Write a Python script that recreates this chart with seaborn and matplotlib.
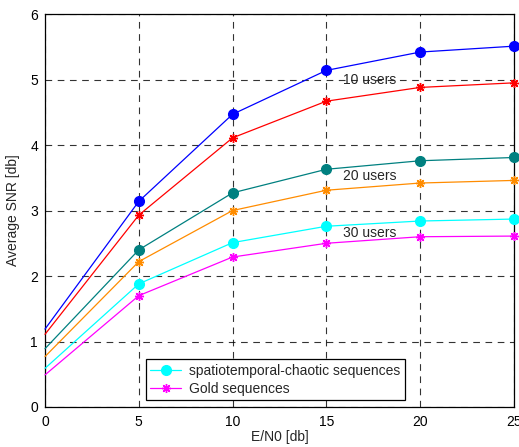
import matplotlib
matplotlib.use("Agg")
import matplotlib.pyplot as plt
import seaborn as sns
import pandas as pd
from matplotlib.lines import Line2D

ebn0 = [0, 5, 10, 15, 20, 25]
chaotic_10 = [1.19, 3.14, 4.47, 5.14, 5.42, 5.51]
gold_10 = [1.11, 2.93, 4.11, 4.67, 4.88, 4.95]
chaotic_20 = [0.89, 2.40, 3.27, 3.63, 3.76, 3.81]
gold_20 = [0.77, 2.22, 3.00, 3.31, 3.42, 3.46]
chaotic_30 = [0.59, 1.88, 2.51, 2.76, 2.84, 2.87]
gold_30 = [0.49, 1.70, 2.29, 2.50, 2.60, 2.61]
xticks = [0, 5, 10, 15, 20, 25]
yticks = [0, 1, 2, 3, 4, 5, 6]
annotations = ["10 users", "20 users", "30 users"]
legend_labels = ["spatiotemporal-chaotic sequences", "Gold sequences"]

sns.set_style("white")
plt.rcParams['font.family'] = ['Liberation Sans', 'DejaVu Sans']
FS = 10

fig = plt.figure(figsize=(5.19, 4.47), dpi=100)
ax = fig.add_axes([0.0867, 0.0895, 0.9035, 0.879])

asterisk = (8, 2, 0)
series = [
    (chaotic_10, '#0000FF', 'o'),
    (gold_10, '#FF0000', asterisk),
    (chaotic_20, '#008080', 'o'),
    (gold_20, '#FF8C00', asterisk),
    (chaotic_30, '#00FFFF', 'o'),
    (gold_30, '#FF00FF', asterisk),
]
for vals, col, mk in series:
    df = pd.DataFrame({'x': ebn0, 'y': vals})
    is_circle = mk == 'o'
    sns.lineplot(data=df, x='x', y='y', ax=ax, color=col, marker=mk,
                 markevery=[1, 2, 3, 4, 5],
                 markersize=7 if is_circle else 6.5,
                 markeredgecolor=col, markerfacecolor=col,
                 markeredgewidth=1.0,
                 linewidth=0.9, clip_on=False, zorder=3)

ax.set_xlim(0, 25)
ax.set_ylim(0, 6)
ax.set_xticks(xticks)
ax.set_yticks(yticks)
ax.set_xticklabels([str(t) for t in xticks], fontsize=FS)
ax.set_yticklabels([str(t) for t in yticks], fontsize=FS)
ax.tick_params(axis='x', direction='in', length=4, width=0.8, colors='black', pad=6)
ax.tick_params(axis='y', direction='in', length=4, width=0.8, colors='black', pad=5)
ax.grid(True, color='black', linestyle=(0, (6, 5)), linewidth=0.8, alpha=0.8)
for s in ax.spines.values():
    s.set_color('black')
    s.set_linewidth(0.9)
ax.set_xlabel('E/N0 [db]', fontsize=FS, labelpad=0.5)
ax.set_ylabel('Average SNR [db]', fontsize=FS, labelpad=7)

ax.text(17.3, 4.99, annotations[0], fontsize=FS, ha='center', va='center')
ax.text(17.3, 3.52, annotations[1], fontsize=FS, ha='center', va='center')
ax.text(17.3, 2.65, annotations[2], fontsize=FS, ha='center', va='center')

handles = [
    Line2D([0], [0], color='#00FFFF', marker='o', markersize=7, linewidth=0.9),
    Line2D([0], [0], color='#FF00FF', marker=asterisk, markersize=6.5, linewidth=0.9),
]
leg = ax.legend(handles, legend_labels, loc='lower left', bbox_to_anchor=(0.216, 0.018),
                fontsize=FS, frameon=True, fancybox=False, edgecolor='black',
                framealpha=1, borderpad=0.3, labelspacing=0.3, handlelength=2.2,
                handletextpad=0.6, borderaxespad=0)
leg.get_frame().set_linewidth(0.9)

fig.savefig('out.png', dpi=100)
